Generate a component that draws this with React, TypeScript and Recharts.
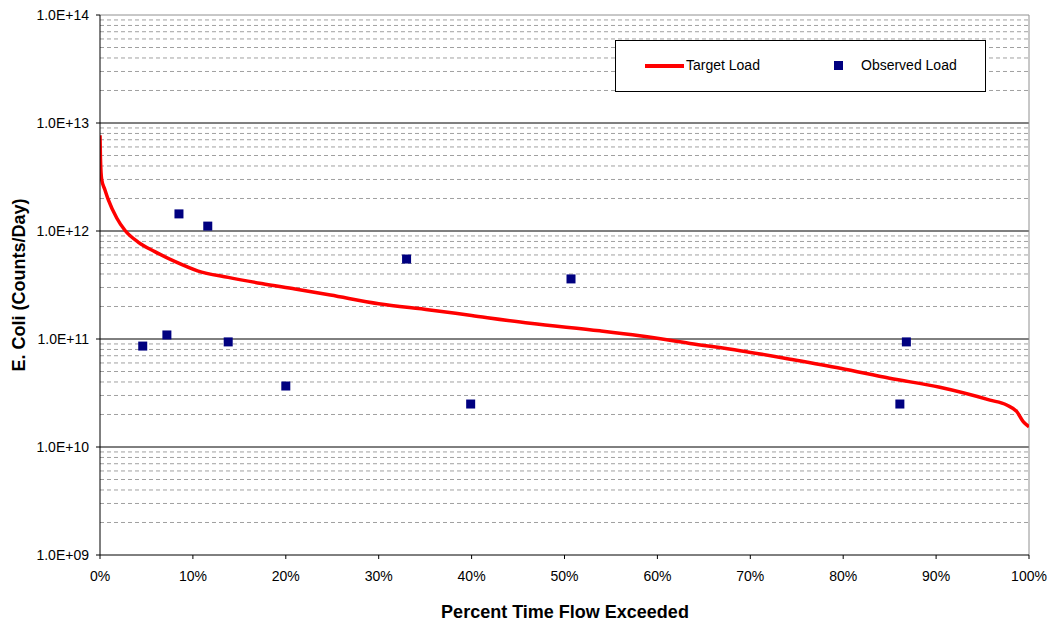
import React from 'react';
import {
  ComposedChart,
  Line,
  Scatter,
  XAxis,
  YAxis,
  CartesianGrid,
  ReferenceLine,
  Label,
} from 'recharts';

// ---------- data ----------
const curvePct = [0, 0.05, 0.18, 0.5, 0.9, 1.8, 2.7, 4.1, 5.9, 8.1, 10.5, 13.8, 17.4, 21, 24.8, 30, 35.5, 40, 46.3, 53.8, 58.1, 63.5, 68.9, 74.3, 79.7, 85, 90.4, 95.8, 97.6, 98.7, 99.4, 100];
const curveLoad = [7.7e12, 4.7e12, 3.0e12, 2.45e12, 1.94e12, 1.32e12, 1.01e12, 7.9e11, 6.44e11, 5.2e11, 4.28e11, 3.72e11, 3.26e11, 2.9e11, 2.55e11, 2.12e11, 1.86e11, 1.65e11, 1.4e11, 1.19e11, 1.07e11, 9.1e10, 7.8e10, 6.5e10, 5.36e10, 4.33e10, 3.57e10, 2.72e10, 2.45e10, 2.12e10, 1.71e10, 1.54e10];

const obsPct = [4.6, 7.2, 8.5, 11.6, 13.8, 20.0, 33.0, 39.9, 50.7, 86.1, 86.8];
const obsLoad = [8.6e10, 1.09e11, 1.44e12, 1.11e12, 9.4e10, 3.67e10, 5.5e11, 2.5e10, 3.6e11, 2.5e10, 9.4e10];

const xTicks = [0, 10, 20, 30, 40, 50, 60, 70, 80, 90, 100];
const xTickLabels = ['0%', '10%', '20%', '30%', '40%', '50%', '60%', '70%', '80%', '90%', '100%'];
const yTicks = [1e9, 1e10, 1e11, 1e12, 1e13, 1e14];
const yTickLabels = ['1.0E+09', '1.0E+10', '1.0E+11', '1.0E+12', '1.0E+13', '1.0E+14'];
const majorGrid = [1e10, 1e11, 1e12, 1e13];
const minorMultipliers = [2, 3, 4, 5, 6, 7, 8, 9];
const decades = [1e9, 1e10, 1e11, 1e12, 1e13];

const curveData = curvePct.map((x, i) => ({ x, target: curveLoad[i] }));
const obsData = obsPct.map((x, i) => ({ x, observed: obsLoad[i] }));
const minorGrid: number[] = [];
decades.forEach((d) => minorMultipliers.forEach((m) => minorGrid.push(d * m)));

const FONT = '"Liberation Sans", Arial, sans-serif';

const SquareShape = (props: any) => {
  const { cx, cy } = props;
  if (cx == null || cy == null) return null;
  return <rect x={cx - 4.5} y={cy - 4.5} width={9} height={9} fill="#000080" />;
};

export default function App() {
  return (
    <div style={{ position: 'absolute', left: 0, top: 0, width: 1051, height: 624, background: '#fff', fontFamily: FONT }}>
      <ComposedChart
        width={1051}
        height={624}
        margin={{ top: 15, right: 22, bottom: 0, left: 10 }}
      >
        <CartesianGrid
          horizontal={true}
          vertical={false}
          horizontalValues={minorGrid}
          stroke="#a0a0a0"
          strokeDasharray="4 3"
        />
        <CartesianGrid
          horizontal={true}
          vertical={false}
          horizontalValues={majorGrid}
          stroke="#000"
          strokeDasharray=""
        />
        <ReferenceLine y={1e14} stroke="#909090" strokeWidth={1} ifOverflow="extendDomain" />
        <ReferenceLine x={100} stroke="#909090" strokeWidth={1} ifOverflow="extendDomain" />
        <XAxis
          type="number"
          dataKey="x"
          domain={[0, 100]}
          ticks={xTicks}
          tickFormatter={(v: number) => xTickLabels[xTicks.indexOf(v)]}
          height={69}
          tickSize={4}
          tickMargin={12}
          stroke="#000"
          tick={{ fill: '#000', fontSize: 14, fontFamily: FONT }}
          allowDataOverflow
        >
          <Label
            content={() => (
              <text x={565} y={618} textAnchor="middle" fontFamily={FONT} fontSize={18} fontWeight="bold" fill="#000">
                Percent Time Flow Exceeded
              </text>
            )}
          />
        </XAxis>
        <YAxis
          type="number"
          scale="log"
          domain={[1e9, 1e14]}
          ticks={yTicks}
          tickFormatter={(v: number) => yTickLabels[yTicks.indexOf(v)]}
          width={90}
          tickSize={4}
          tickMargin={7}
          stroke="#000"
          tick={{ fill: '#000', fontSize: 14, fontFamily: FONT }}
          allowDataOverflow
        >
          <Label
            content={() => (
              <text x={25} y={285} transform="rotate(-90 25 285)" textAnchor="middle" fontFamily={FONT} fontSize={18} fontWeight="bold" fill="#000">
                E. Coli (Counts/Day)
              </text>
            )}
          />
        </YAxis>
        <Line
          data={curveData}
          dataKey="target"
          type="monotone"
          stroke="#ff0000"
          strokeWidth={3.5}
          dot={false}
          activeDot={false}
          isAnimationActive={false}
        />
        <Scatter
          data={obsData}
          dataKey="observed"
          shape={<SquareShape />}
          isAnimationActive={false}
        />
      </ComposedChart>
      <div
        style={{
          position: 'absolute',
          left: 615,
          top: 40,
          width: 369,
          height: 50,
          border: '1.5px solid #000',
          background: '#fff',
          fontFamily: FONT,
          fontSize: 14,
          color: '#000',
        }}
      >
        <div style={{ position: 'absolute', left: 29, top: 23, width: 39, height: 4, background: '#ff0000' }} />
        <div style={{ position: 'absolute', left: 70, top: 16, lineHeight: '17px' }}>Target Load</div>
        <div style={{ position: 'absolute', left: 218, top: 20, width: 9, height: 9, background: '#000080' }} />
        <div style={{ position: 'absolute', left: 245, top: 16, lineHeight: '17px' }}>Observed Load</div>
      </div>
    </div>
  );
}
